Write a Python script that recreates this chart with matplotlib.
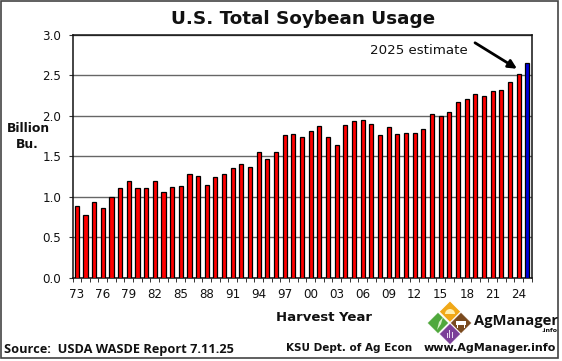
import numpy as np
import matplotlib
matplotlib.use('Agg')
import matplotlib.pyplot as plt
from matplotlib.patches import Polygon, Rectangle, Wedge

W, H = 562, 361

years = [f'{y % 100:02d}' for y in range(1973, 2026)]
usage = [0.89, 0.78, 0.93, 0.86, 1.00, 1.11, 1.20, 1.11, 1.11, 1.19,
         1.06, 1.12, 1.13, 1.28, 1.26, 1.15, 1.24, 1.28, 1.35, 1.40,
         1.37, 1.55, 1.47, 1.55, 1.76, 1.78, 1.74, 1.81, 1.87, 1.74,
         1.64, 1.88, 1.93, 1.95, 1.90, 1.76, 1.86, 1.78, 1.79, 1.79,
         1.84, 2.02, 2.00, 2.05, 2.17, 2.21, 2.27, 2.24, 2.31, 2.32,
         2.41, 2.52, 2.65]
y_ticks = [0.0, 0.5, 1.0, 1.5, 2.0, 2.5, 3.0]

fig = plt.figure(figsize=(W / 100, H / 100), dpi=100)
ax = fig.add_axes([72.5 / W, 1 - 277.7 / H, 459.2 / W, 243 / H])

x = np.arange(len(years))
colors = ['#ff0000'] * (len(years) - 1) + ['#0000e0']
ax.bar(x, usage, width=0.47, color=colors, edgecolor='black', linewidth=0.9, zorder=3)

ax.set_xlim(-0.5, len(years) - 0.5)
ax.set_ylim(0, 3)
ax.set_yticks(y_ticks)
ax.set_yticklabels([f'{v:.1f}' for v in y_ticks], fontsize=8.6, color='#111111')
ax.yaxis.grid(True, color='#666666', linewidth=1.0, zorder=1)
ax.set_axisbelow(True)

# ticks sit between the bars, labels every third year under the bar
ax.set_xticks(np.arange(-0.5, len(years), 1))
ax.set_xticklabels([])
ax.set_xticks(x[::3], minor=True)
ax.set_xticklabels(years[::3], minor=True, fontsize=8.6, color='#111111')
ax.tick_params(axis='x', which='major', length=3, width=0.7, color='#333333')
ax.tick_params(axis='x', which='minor', length=0, pad=7.5)
ax.tick_params(axis='y', length=3, width=0.8, color='#333333', pad=5)
for s in ax.spines.values():
    s.set_linewidth(1.1)
    s.set_color('#111111')

ax.annotate('', xy=(50.8, 2.58), xytext=(45.96, 2.9),
            arrowprops=dict(arrowstyle='-|>,head_width=0.25,head_length=0.5', color='black',
                            lw=2.0, shrinkA=0, shrinkB=0), zorder=5)
ax.text(45.15, 2.81, '2025 estimate', ha='right', va='center', fontsize=9.6, color='#111111')


def ftext(px, py, s, **kw):
    fig.text(px / W, 1 - py / H, s, **kw)


ftext(303, 19, 'U.S. Total Soybean Usage', ha='center', va='center',
      fontsize=13.2, fontweight='bold', color='#111111')
ftext(28.5, 129, 'Billion', ha='center', va='center', fontsize=8.9, fontweight='bold', color='#111111')
ftext(27, 145, 'Bu.', ha='center', va='center', fontsize=8.9, fontweight='bold', color='#111111')
ftext(324, 317.5, 'Harvest Year', ha='center', va='center', fontsize=9.5,
      fontweight='bold', color='#111111')
ftext(3.5, 349, 'Source:  USDA WASDE Report 7.11.25', ha='left', va='center', fontsize=9.2,
      fontweight='bold', family='Open Sans', color='#111111')
ftext(286, 347.7, 'KSU Dept. of Ag Econ', ha='left', va='center', fontsize=7.5,
      fontweight='bold', color='#111111')
ftext(424, 347.7, 'www.AgManager.info', ha='left', va='center', fontsize=8.0,
      fontweight='bold', color='#111111')
ftext(474, 321.5, 'AgManager', ha='left', va='center', fontsize=10.6,
      fontweight='bold', family='Open Sans', color='#111111')
ftext(557, 331, '.info', ha='right', va='center', fontsize=4.5, fontweight='bold', color='#111111')

logo = [(450, 311.7, '#f0a818'), (438, 323, '#4fa83c'), (461, 323, '#7a4a1e'), (450, 334, '#7b3f98')]
for cx, cy, c in logo:
    r = 10.8
    pts = [((cx - r) / W, 1 - cy / H), (cx / W, 1 - (cy - r) / H),
           ((cx + r) / W, 1 - cy / H), (cx / W, 1 - (cy + r) / H)]
    fig.add_artist(Polygon(pts, closed=True, transform=fig.transFigure, facecolor=c,
                           edgecolor='white', linewidth=0.6))

# rough logo emblems in pixel space: sun, wheat, cow, bars
px_trans = plt.matplotlib.transforms.Affine2D().scale(1 / W, -1 / H).translate(0, 1) + fig.transFigure
fig.add_artist(Wedge((450, 314), 5, 180, 360, transform=px_trans, facecolor='#fff0b0', edgecolor='none'))
fig.add_artist(Polygon([(437, 330), (439, 322), (443, 317), (441, 324)], closed=True,
                       transform=px_trans, facecolor='#d8efc8', edgecolor='none'))
fig.add_artist(Rectangle((456, 321), 10, 4, transform=px_trans, facecolor='white', edgecolor='none'))
fig.add_artist(Rectangle((457, 325), 1.2, 3, transform=px_trans, facecolor='white', edgecolor='none'))
fig.add_artist(Rectangle((464, 325), 1.2, 3, transform=px_trans, facecolor='white', edgecolor='none'))
for bx, bh in [(446.5, 5), (449, 8), (451.5, 6)]:
    fig.add_artist(Rectangle((bx, 338 - bh), 1.4, bh, transform=px_trans, facecolor='#e8d8f0',
                             edgecolor='none'))

# outer chart frame
fig.add_artist(Rectangle((1 / W, 1 - 358 / H), 557 / W, 357.5 / H, transform=fig.transFigure,
                         fill=False, edgecolor='#444444', linewidth=1.2))

fig.savefig('out.png', dpi=100)
